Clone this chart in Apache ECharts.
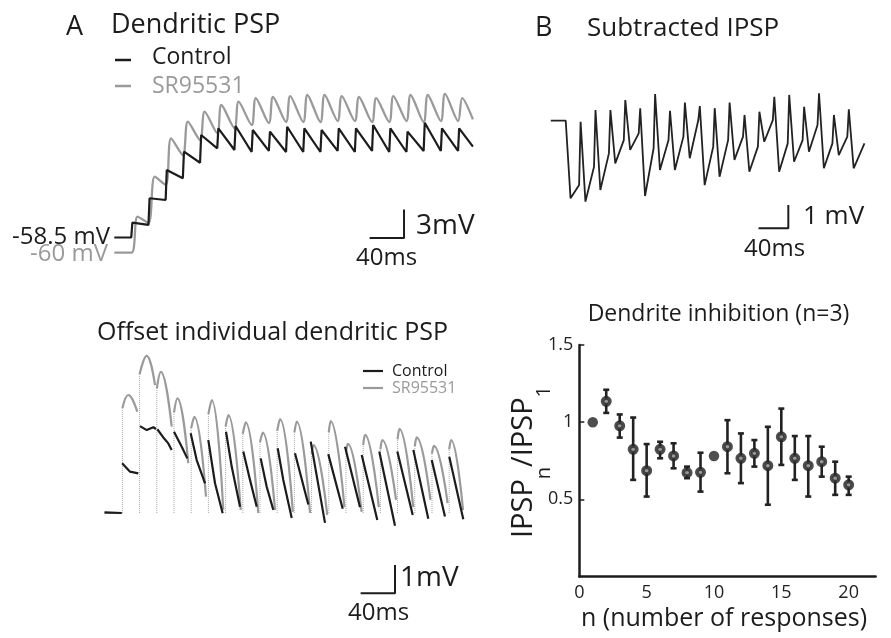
<!DOCTYPE html>
<html><head><meta charset="utf-8">
<script src="https://cdn.jsdelivr.net/npm/echarts@6/dist/echarts.min.js"></script>
<style>html,body{margin:0;padding:0;background:#fff}#c{width:891px;height:638px}</style>
</head><body><div id="c"></div>
<script>
// ---------------- DATA ----------------
// Panel A (top): dendritic PSP, time (ms) vs membrane potential (mV)
const aTopControl = [[0,-58.5],[19.7,-58.5],
 [21,-56.94],[39.7,-57.18],[41,-54.37],[59.7,-54.55],[61,-51.39],[79.7,-52.27],
 [81,-49.47],[99.7,-50.63],[101,-47.71],[119.7,-49.11],[121,-47.01],[139.7,-49.29],
 [141,-46.76],[159.7,-49.5],[161,-47.18],[179.7,-49.39],[181,-47.36],[199.7,-49.5],
 [201,-46.84],[219.7,-49.5],[221,-47.01],[239.7,-49.5],[241,-47.18],[259.7,-49.39],
 [261,-47.01],[279.7,-49.5],[281,-47.01],[299.7,-49.39],[301,-46.66],[319.7,-49.5],
 [321,-47.01],[339.7,-49.5],[341,-47.36],[359.7,-49.39],[361,-46.42],[379.7,-49.39],
 [381,-47.01],[399.7,-49.39],[401,-47.01],[417,-48.94]];
const aTopSR = [[0,-60.1],[20,-60.1],
 [27,-56.31],[39.8,-56.97],[47,-52.1],[59.8,-52.97],[66,-48.06],[79.8,-49.82],
 [85.5,-46.31],[99.8,-48.24],[105,-45.26],[119.8,-47.53],[124.5,-44.55],[139.8,-47.0],
 [144.5,-44.2],[159.8,-46.66],[164.5,-43.82],[179.8,-46.45],[184.5,-43.71],[199.8,-46.34],
 [204.5,-43.61],[219.8,-46.34],[224.5,-43.5],[239.8,-46.34],[244.5,-43.5],[259.8,-46.24],
 [264.5,-43.61],[279.8,-46.24],[284.5,-43.71],[299.8,-46.34],[304.5,-43.82],[319.8,-46.34],
 [324.5,-43.61],[339.8,-46.24],[344.5,-43.5],[359.8,-46.34],[364.5,-43.5],[379.8,-46.24],
 [384.5,-43.39],[399.8,-46.24],[404.5,-43.82],[417,-46.06]];

// Panel A (bottom): offset individual PSPs, one piece per response (ms, mV)
const aBotSRPieces = [
 [[0,0],[20,0]],
 [[20.8,3.7],[27.7,4.17],[38.1,3.58]],
 [[40.8,4.9],[49,5.55],[58.7,4.52]],
 [[60.8,4.4],[65.5,4.99],[78.1,3.05]],
 [[80.8,3.55],[84.7,4.05],[97.4,1.76]],
 [[100.8,3.0],[104.4,3.40],[118,0.58]],
 [[120.8,3.5],[124.7,3.99],[138.1,0.11]],
 [[140.8,3.05],[144,3.46],[158.4,0.11]],
 [[160.8,2.8],[164.2,3.20],[178.8,0.0]],
 [[180.8,2.5],[184,2.84],[198.3,0.1]],
 [[200.8,2.9],[204.1,3.32],[219,0.04]],
 [[220.8,2.85],[223.5,3.23],[239,0.0]],
 [[240.8,2.1],[243,2.40],[259,-0.07]],
 [[260.8,2.85],[263,3.25],[279,0.21]],
 [[280.8,2.15],[283,2.44],[299,0.04]],
 [[300.8,2.4],[303,2.76],[319,0.21]],
 [[320.8,2.25],[323,2.58],[339,0.46]],
 [[340.8,2.6],[343,2.97],[359,0.21]],
 [[360.8,2.35],[363,2.67],[379,0.46]],
 [[380.8,2.1],[383,2.37],[399,0.35]],
 [[400.8,2.25],[403,2.58],[416.9,0.1]]
];
const aBotControlPieces = [
 [[0,0.02],[20,0.0]],
 [[20.5,1.76],[22.5,1.80],[29.7,1.46],[39.3,1.40]],
 [[41.3,3.07],[49.1,2.93],[56.8,3.03],[59.9,2.97]],
 [[61.4,2.96],[68.4,2.67],[74.2,2.46],[78.1,2.23]],
 [[80.8,2.87],[89.8,2.34],[96.3,1.93]],
 [[100.2,2.82],[107.2,1.87],[116.9,1.05]],
 [[120.7,2.58],[128.5,1.05],[137.4,-0.01]],
 [[141.3,2.87],[147.9,1.64],[157.6,0.22]],
 [[161.4,2.17],[169.2,1.17],[177,0.22]],
 [[181.6,1.93],[188.6,0.93],[196.3,0.11]],
 [[201.4,2.29],[207.9,1.17],[217.7,-0.18]],
 [[221.5,2.11],[237,0.3]],
 [[239.8,2.52],[256.4,-0.35]],
 [[260.2,2.08],[277,0.15]],
 [[279.7,2.34],[297.1,0.2]],
 [[299.1,2.05],[317.2,-0.25]],
 [[319.5,2.17],[337.8,-0.45]],
 [[340.5,2.17],[358.4,-0.07]],
 [[359.1,2.23],[376.5,-0.2]],
 [[380.5,1.87],[395.9,-0.12]],
 [[400.9,1.99],[417.2,-0.22]]
];

// Panel B (top): subtracted IPSP (ms, mV)
const bTopIPSP = [[0,0.05],[20,0.05],
 [26.5,-3.29],[38,-2.72],[40,0.0],[46.5,-3.43],[58,-1.93],[60,0.50],
 [66.5,-2.93],[78,-1.36],[80,0.50],[86.5,-1.79],[98,-0.79],[100,0.93],
 [106.5,-1.21],[118,-0.50],[120,0.58],[126.5,-3.19],[138,-1.14],[140,1.19],
 [146.5,-2.07],[158,-0.79],[160,0.47],[166.5,-2.07],[178,-0.64],[180,0.82],
 [186.5,-1.57],[198,0.07],[200,0.67],[206.5,-2.72],[218,-1.07],[220,0.58],
 [226.5,-2.36],[238,-0.79],[240,0.82],[246.5,-1.64],[258,-0.64],[260,0.29],
 [266.5,-2.15],[278,-1.07],[280,0.43],[286.5,-0.86],[298,0.07],[300,1.07],
 [306.5,-2.15],[318,-0.93],[320,1.15],[326.5,-1.72],[338,-0.79],[340,0.64],
 [346.5,-1.29],[358,-0.14],[360,1.22],[366.5,-2.0],[378,-0.93],[380,0.29],
 [386.5,-1.43],[398,-0.64],[400,0.53],[406.5,-2.0],[421,-0.93]];

// Panel B (bottom): Dendrite inhibition (n=3)
const nResp     = [1,2,3,4,5,6,7,8,9,10,11,12,13,14,15,16,17,18,19,20];
const ratioMean = [1.00,1.135,0.976,0.824,0.686,0.824,0.781,0.673,0.675,0.781,0.841,0.766,0.798,0.718,0.905,0.766,0.718,0.744,0.637,0.594];
const ratioHigh = [null,1.21,1.05,1.03,0.858,0.873,0.863,0.712,0.802,null,1.013,0.927,0.884,0.970,1.088,0.91,0.91,0.841,0.744,0.647];
const ratioLow  = [null,1.06,0.90,0.626,0.518,0.766,0.701,0.637,0.55,null,0.669,0.605,0.712,0.465,0.723,0.626,0.518,0.647,0.529,0.529];
const xTicksB = [0,5,10,15,20];

// ---------------- CHART ----------------
const FONT = '"Open Sans", "Noto Sans", sans-serif';
const BLACK = '#1c1c1c', GRAY = '#9a9a9a';

function joinPieces(pieces){
  const out = [];
  pieces.forEach((p,i)=>{ if(i>0) out.push([p[0][0],'-']); p.forEach(pt=>out.push(pt)); });
  return out;
}
function risers(pieces){
  const out = [];
  pieces.slice(1).forEach(p=>{ const t=p[0][0], v=p[0][1]; out.push([t,0],[t,v],[t,'-']); });
  return out;
}
function scaleBar(t, v, dt, dv){ return [[t-dt, v],[t, v],[t, v+dv]]; }

const hiddenX = (i, max)=>({gridIndex:i, type:'value', min:0, max:max, show:false});
const hiddenY = (i, mn, mx)=>({gridIndex:i, type:'value', min:mn, max:mx, show:false});

const lineBase = {type:'line', showSymbol:false, symbol:'none', silent:true, animation:false, connectNulls:false};

const errData = nResp.map((n,i)=> ratioHigh[i]==null ? null : [n, ratioLow[i], ratioHigh[i]]).filter(d=>d);
const scatData = nResp.map((n,i)=>{
  const hasBar = ratioHigh[i]!=null;
  return {value:[n, ratioMean[i]], symbolSize: hasBar?7.2:10.5,
    itemStyle: hasBar ? {color:'#b5b5b5', borderColor:'#222', borderWidth:3.8} : {color:'#222', borderWidth:0}};
});

// text helpers
const ctx = document.createElement('canvas').getContext('2d');
function tw(text, size){ ctx.font = size+'px '+FONT; return ctx.measureText(text).width; }
function txt(text, x, y, size, opt){
  opt = opt||{};
  return {type:'text', x:x, y:y, rotation: opt.rot||0, silent:true, z:100,
    style:{text:text, font: size+'px '+FONT, fill: opt.color||BLACK,
      textAlign: opt.align||'left', align: opt.align||'left',
      textVerticalAlign:'middle', verticalAlign:'middle'}};
}
function hline(x1,x2,y,color,w){ return {type:'line', silent:true, z:100, shape:{x1:x1,y1:y,x2:x2,y2:y}, style:{stroke:color, lineWidth:w}}; }

// rotated y label for scatter: IPSP_n / IPSP_1
const mainSz = 29, subSz = 20;
const wI = tw('IPSP', mainSz), wn = tw('n', subSz), wS = tw('/IPSP', mainSz), w1 = tw('1', subSz);
const totalL = wI + wn + wS + w1;
let yy = 462 + totalL/2;
const yl = [];
yl.push(txt('IPSP', 523.5, yy, mainSz, {rot:Math.PI/2})); yy -= wI;
yl.push(txt('n', 544, yy, subSz, {rot:Math.PI/2})); yy -= wn;
yl.push(txt('/IPSP', 523.5, yy, mainSz, {rot:Math.PI/2})); yy -= wS;
yl.push(txt('1', 544, yy, subSz, {rot:Math.PI/2}));

const graphics = [
  txt('A', 66, 27.5, 27),
  txt('Dendritic PSP', 111, 25, 27),
  hline(115, 131, 60, BLACK, 2.5), txt('Control', 152, 57, 23),
  hline(115, 131, 86, GRAY, 2.5), txt('SR95531', 152, 86, 23, {color:GRAY}),
  txt('-58.5 mV', 110, 237, 24, {align:'right'}),
  txt('-60 mV', 108, 254, 24, {align:'right', color:GRAY}),
  txt('3mV', 416, 226, 28),
  txt('40ms', 356, 258, 24),
  txt('Offset individual dendritic PSP', 97, 333, 25),
  hline(363, 383, 371, BLACK, 2.2), txt('Control', 392, 371, 16),
  hline(363, 383, 388, GRAY, 2.2), txt('SR95531', 392, 388, 16, {color:GRAY}),
  txt('1mV', 400, 578, 28),
  txt('40ms', 348, 613, 24),
  txt('B', 535, 28, 27),
  txt('Subtracted IPSP', 587, 29, 26),
  txt('1 mV', 803, 217, 26),
  txt('40ms', 744, 249, 24),
  txt('Dendrite inhibition (n=3)', 718.5, 314, 23, {align:'center'}),
  txt('n (number of responses)', 724, 619, 25, {align:'center'})
].concat(yl);

const option = {
  animation:false,
  backgroundColor:'#ffffff',
  grid:[
    {left:114.3, top:61.75, width:361.2, height:199.5, containLabel:false, outerBoundsMode:'none'},
    {left:104.5, top:343.2, width:361.2, height:268.85, containLabel:false, outerBoundsMode:'none'},
    {left:550.8, top:75.1, width:315.9, height:163.1, containLabel:false, outerBoundsMode:'none'},
    {left:579.3, top:345, width:296.3, height:231.5, containLabel:false, outerBoundsMode:'none'}
  ],
  xAxis:[
    hiddenX(0,420), hiddenX(1,420), hiddenX(2,424),
    {gridIndex:3, type:'value', min:0, max:22, interval:5,
     axisLine:{show:true, onZero:false, lineStyle:{color:BLACK, width:2.5}},
     axisTick:{show:false}, splitLine:{show:false},
     axisLabel:{fontSize:18, fontFamily:FONT, color:'#222', margin:7,
       formatter:v=> xTicksB.indexOf(v)>=0 ? String(v) : ''}}
  ],
  yAxis:[
    hiddenY(0,-61,-40), hiddenY(1,-3.5,6), hiddenY(2,-5,2),
    {gridIndex:3, type:'value', min:0, max:1.5, interval:0.5,
     axisLine:{show:true, onZero:false, lineStyle:{color:BLACK, width:2.5}},
     axisTick:{show:true, inside:true, length:5, lineStyle:{color:BLACK, width:1.5}},
     splitLine:{show:false},
     axisLabel:{fontSize:18, fontFamily:FONT, color:'#222', margin:6, showMinLabel:false}}
  ],
  series:[
    // A top
    Object.assign({}, lineBase, {xAxisIndex:0, yAxisIndex:0, data:aTopSR, smooth:0.3,
      lineStyle:{color:GRAY, width:2.3}}),
    Object.assign({}, lineBase, {xAxisIndex:0, yAxisIndex:0, data:aTopControl,
      lineStyle:{color:BLACK, width:2.2}}),
    Object.assign({}, lineBase, {xAxisIndex:0, yAxisIndex:0, data:scaleBar(336.9,-58.55,40,3),
      lineStyle:{color:BLACK, width:2}}),
    // A bottom
    Object.assign({}, lineBase, {xAxisIndex:1, yAxisIndex:1, data:risers(aBotSRPieces),
      lineStyle:{color:'#a8a8a8', width:1, type:'dotted'}}),
    Object.assign({}, lineBase, {xAxisIndex:1, yAxisIndex:1, data:joinPieces(aBotSRPieces), smooth:0.45,
      lineStyle:{color:GRAY, width:2.2}}),
    Object.assign({}, lineBase, {xAxisIndex:1, yAxisIndex:1, data:joinPieces(aBotControlPieces),
      lineStyle:{color:BLACK, width:2.2}}),
    Object.assign({}, lineBase, {xAxisIndex:1, yAxisIndex:1, data:scaleBar(337.8,-2.84,40,1),
      lineStyle:{color:BLACK, width:2}}),
    // B top
    Object.assign({}, lineBase, {xAxisIndex:2, yAxisIndex:2, data:bTopIPSP,
      lineStyle:{color:'#222', width:1.8}}),
    Object.assign({}, lineBase, {xAxisIndex:2, yAxisIndex:2, data:scaleBar(318.8,-4.575,40,1),
      lineStyle:{color:BLACK, width:2}}),
    // B bottom
    {type:'custom', xAxisIndex:3, yAxisIndex:3, data:errData, silent:true, z:2,
     encode:{x:0, y:[1,2]},
     renderItem:function(params, api){
       const x = api.value(0);
       const lo = api.coord([x, api.value(1)]), hi = api.coord([x, api.value(2)]);
       const w = 3;
       const st = {stroke:'#222', lineWidth:2.6};
       return {type:'group', children:[
         {type:'line', shape:{x1:lo[0], y1:lo[1], x2:hi[0], y2:hi[1]}, style:st},
         {type:'line', shape:{x1:lo[0]-w, y1:lo[1], x2:lo[0]+w, y2:lo[1]}, style:st},
         {type:'line', shape:{x1:hi[0]-w, y1:hi[1], x2:hi[0]+w, y2:hi[1]}, style:st}
       ]};
     }},
    {type:'scatter', xAxisIndex:3, yAxisIndex:3, data:scatData, symbol:'circle', silent:true, z:3}
  ],
  graphic: graphics
};
const chart = echarts.init(document.getElementById('c'), null, {renderer:'canvas'});
chart.setOption(option);
</script></body></html>
